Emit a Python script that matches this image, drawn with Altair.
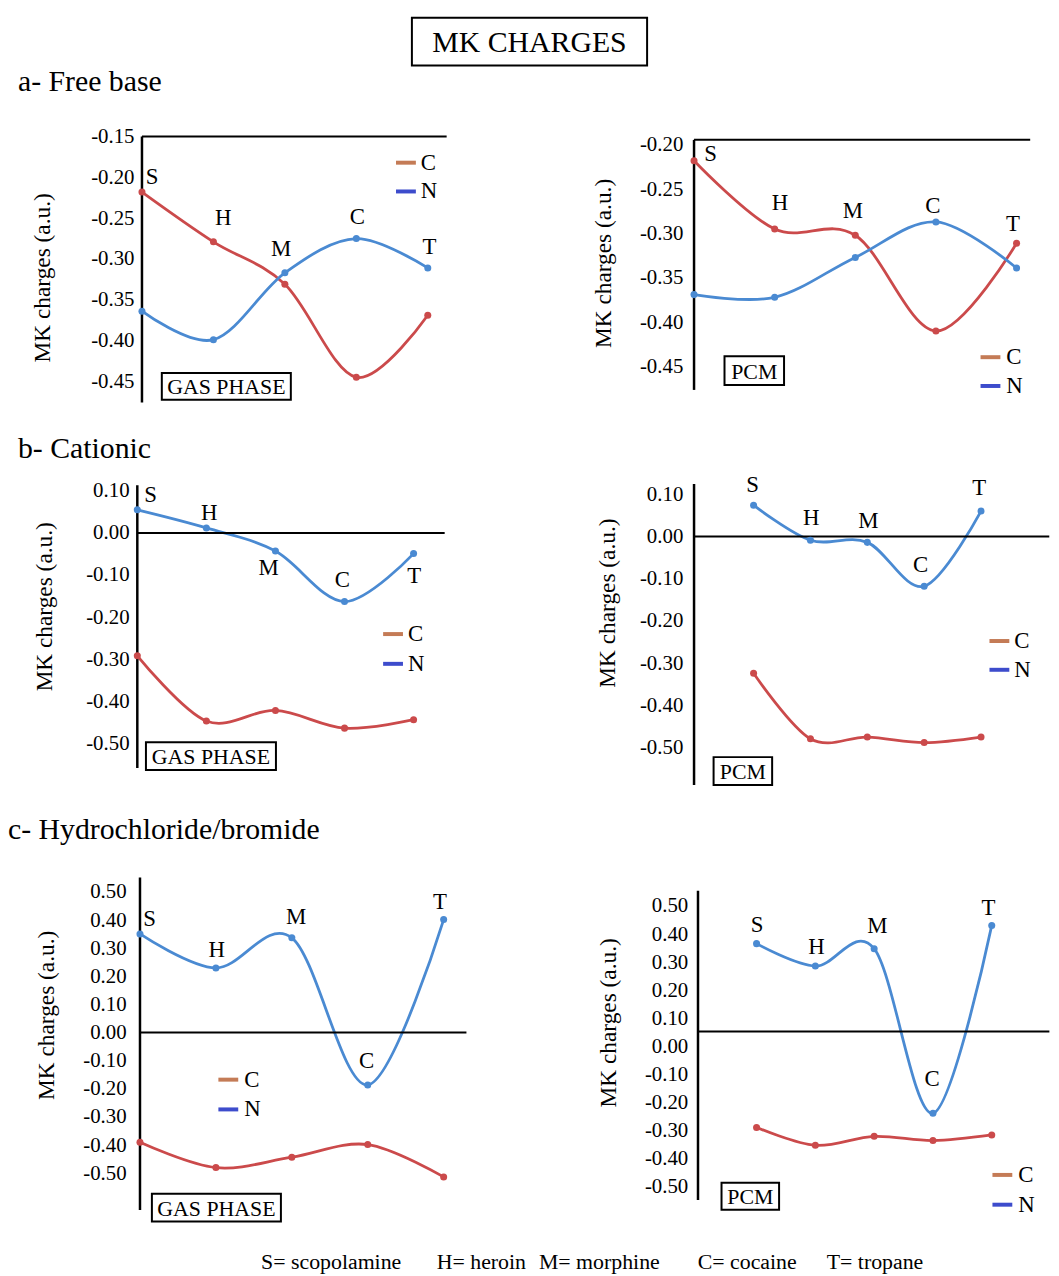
import altair as alt
import pandas as pd

FONT = "Liberation Serif"
RED = "#cb4a4b"
BLUE = "#4a8ad2"
LEG_C = "#c47b56"
LEG_N = "#3d4ccc"

molecules = ["S", "H", "M", "C", "T"]
series_names = ["C", "N"]

# a- Free base
a_gas_C = [-0.218, -0.279, -0.331, -0.445, -0.369]
a_gas_N = [-0.364, -0.399, -0.317, -0.275, -0.311]
a_pcm_C = [-0.218, -0.295, -0.302, -0.410, -0.311]
a_pcm_N = [-0.369, -0.372, -0.327, -0.287, -0.339]
# b- Cationic
b_gas_C = [-0.292, -0.447, -0.422, -0.464, -0.444]
b_gas_N = [0.055, 0.012, -0.043, -0.163, -0.049]
b_pcm_C = [-0.324, -0.479, -0.475, -0.488, -0.475]
b_pcm_N = [0.074, -0.009, -0.014, -0.118, 0.060]
# c- Hydrochloride/bromide
c_gas_C = [-0.390, -0.480, -0.443, -0.398, -0.513]
c_gas_N = [0.351, 0.230, 0.337, -0.186, 0.402]
c_pcm_C = [-0.289, -0.353, -0.321, -0.336, -0.316]
c_pcm_N = [0.366, 0.286, 0.348, -0.239, 0.431]

# tick labels
ticks_a_gas = [-0.15, -0.20, -0.25, -0.30, -0.35, -0.40, -0.45]
ticks_a_pcm = [-0.20, -0.25, -0.30, -0.35, -0.40, -0.45]
ticks_b = [0.10, 0.00, -0.10, -0.20, -0.30, -0.40, -0.50]
ticks_c = [0.50, 0.40, 0.30, 0.20, 0.10, 0.00, -0.10, -0.20, -0.30, -0.40, -0.50]

# point-label anchors (x in molecule index units, y in charge units)
lab_a_gas_x = [0.143, 1.139, 1.949, 3.014, 4.024]
lab_a_gas_y = [-0.199, -0.250, -0.288, -0.249, -0.285]
lab_a_pcm_x = [0.206, 1.067, 1.970, 2.963, 3.956]
lab_a_pcm_y = [-0.210, -0.266, -0.275, -0.269, -0.289]
lab_b_gas_x = [0.193, 1.040, 1.902, 2.970, 4.009]
lab_b_gas_y = [0.089, 0.048, -0.084, -0.111, -0.102]
lab_b_pcm_x = [-0.017, 1.012, 2.019, 2.939, 3.969]
lab_b_pcm_y = [0.121, 0.044, 0.036, -0.067, 0.114]
lab_c_gas_x = [0.127, 1.010, 2.056, 2.984, 3.952]
lab_c_gas_y = [0.402, 0.293, 0.410, -0.101, 0.465]
lab_c_pcm_x = [0.007, 1.019, 2.054, 2.987, 3.944]
lab_c_pcm_y = [0.431, 0.354, 0.427, -0.115, 0.492]

footer_items = ["S= scopolamine", "H= heroin", "M= morphine", "C= cocaine", "T= tropane"]
footer_x = [122, 299, 402, 562, 692]

W, H = 358, 374
LEFT_L, LEFT_R = 141, 699
TOPS = [100, 474, 848]


def xdom(spx, sp, left):
    return [(left - spx) / sp, (left + W - spx) / sp]


def ydom(vref, yref, b, top):
    return [vref - (top + H - yref) / b, vref + (yref - top) / b]


panels = [
    dict(C=a_gas_C, N=a_gas_N, lx=lab_a_gas_x, ly=lab_a_gas_y, ticks=ticks_a_gas,
         xcal=(143, 72.0), ycal=(-0.15, 131.7, 822.0), left=LEFT_L, top=TOPS[0], lp=6,
         title=(-97.7, 173.5), axis=(0, -0.15, -0.476), hline=(-0.15, 0, 4.264),
         legend=(58, 87, 258, 278, 283), box=("GAS PHASE", 22, 270, 152, 297)),
    dict(C=a_pcm_C, N=a_pcm_N, lx=lab_a_pcm_x, ly=lab_a_pcm_y, ticks=ticks_a_pcm,
         xcal=(699.3, 81.25), ycal=(-0.20, 140.0, 893.2), left=LEFT_R, top=TOPS[0], lp=11,
         title=(-90.7, 159), axis=(0, -0.1944, -0.4765), hline=(-0.1944, 0, 4.169),
         legend=(254, 283, 289, 309, 315), box=("PCM", 31, 253, 91, 282)),
    dict(C=b_gas_C, N=b_gas_N, lx=lab_b_gas_x, ly=lab_b_gas_y, ticks=ticks_b,
         xcal=(138.3, 69.6), ycal=(-0.2, 615.9, 423.8), left=LEFT_L, top=TOPS[1], lp=11,
         title=(-96, 131), axis=(0, 0.1136, -0.5589), hline=(0.0, 0, 4.45),
         legend=(159, 189, 245, 265, 270), box=("GAS PHASE", 6, 268, 137, 296)),
    dict(C=b_pcm_C, N=b_pcm_N, lx=lab_b_pcm_x, ly=lab_b_pcm_y, ticks=ticks_b,
         xcal=(759.3, 57.3), ycal=(-0.2, 619.76, 425.6), left=LEFT_R, top=TOPS[1], lp=11,
         title=(-87.3, 127.3), axis=(-1.047, 0.1244, -0.5882), hline=(0.0, -1.047, 5.2),
         legend=(166, 195, 298, 318, 323), box=("PCM", 20, 283, 79, 311)),
    dict(C=c_gas_C, N=c_gas_N, lx=lab_c_gas_x, ly=lab_c_gas_y, ticks=ticks_c,
         xcal=(141.0, 76.5), ycal=(0.0, 1034.6, 283.4), left=LEFT_L, top=TOPS[2], lp=14,
         title=(-94.3, 168.7), axis=(0, 0.5515, -0.6306), hline=(0.0, 0, 4.30),
         legend=(234, 264, 79, 99, 105), box=("GAS PHASE", 12, 349, 142, 377)),
    dict(C=c_pcm_C, N=c_pcm_N, lx=lab_c_pcm_x, ly=lab_c_pcm_y, ticks=ticks_c,
         xcal=(762.3, 59.25), ycal=(0.0, 1048.4, 282.7), left=LEFT_R, top=TOPS[2], lp=6,
         title=(-85.7, 176.2), axis=(-0.996, 0.5543, -0.5479), hline=(0.053, -0.996, 4.98),
         legend=(330, 360, 301, 321, 327), box=("PCM", 28, 338, 86, 365)),
]

one = pd.DataFrame({"k": [0]})
LABEL_EXPR = "(datum.value < -0.0001 ? '-' : '') + format(abs(datum.value), '.2f')"


def text_layer(txt, x, y, size, align="left"):
    return alt.Chart(one).mark_text(
        text=txt, font=FONT, fontSize=size, color="black", align=align, baseline="middle"
    ).encode(x=alt.value(x), y=alt.value(y))


def build(p, extras):
    xs = alt.Scale(domain=xdom(p["xcal"][0], p["xcal"][1], p["left"]), nice=False, zero=False)
    vref, yref, b = p["ycal"]
    ys = alt.Scale(domain=ydom(vref, yref, b, p["top"]), nice=False, zero=False)

    df = pd.DataFrame({
        "idx": list(range(5)) * 2,
        "series": [series_names[0]] * 5 + [series_names[1]] * 5,
        "value": p["C"] + p["N"],
        "mol": molecules * 2,
    })
    labdf = pd.DataFrame({"lx": p["lx"], "ly": p["ly"], "mol": molecules})
    color = alt.Color("series:N", scale=alt.Scale(domain=series_names, range=[RED, BLUE]), legend=None)
    x = alt.X("idx:Q", scale=xs, axis=None)

    yaxis = alt.Axis(
        values=p["ticks"], domain=False, ticks=False, grid=False, labelExpr=LABEL_EXPR,
        labelPadding=p["lp"], labelOverlap=False, title="MK charges (a.u.)",
        titleX=p["title"][0], titleY=p["title"][1],
        titleBaseline="middle", titleAlign="center",
    )

    ax_i, ax_top, ax_bot = p["axis"]
    vline = alt.Chart(one).mark_rule(color="black", strokeWidth=2.5).encode(
        x=alt.XDatum(ax_i, scale=xs, axis=None),
        y=alt.YDatum(ax_top, scale=ys, axis=yaxis), y2=alt.datum(ax_bot))
    hv, h0, h1 = p["hline"]
    hline = alt.Chart(one).mark_rule(color="black", strokeWidth=2).encode(
        x=alt.XDatum(h0, scale=xs, axis=None), x2=alt.datum(h1),
        y=alt.YDatum(hv, scale=ys, axis=yaxis))

    lines = alt.Chart(df).mark_line(interpolate="cardinal", strokeWidth=2.8).encode(
        x=x, y=alt.Y("value:Q", scale=ys, axis=yaxis), color=color)
    pts = alt.Chart(df).mark_circle(size=50, opacity=1).encode(
        x=x, y=alt.Y("value:Q", scale=ys, axis=yaxis), color=color)
    labs = alt.Chart(labdf).mark_text(font=FONT, fontSize=23, color="black").encode(
        x=alt.X("lx:Q", scale=xs, axis=None), y=alt.Y("ly:Q", scale=ys, axis=yaxis), text="mol:N")

    yc, yn, d0, d1, tx = p["legend"]
    leg = [
        alt.Chart(one).mark_rule(color=LEG_C, strokeWidth=4).encode(
            x=alt.value(d0), x2=alt.value(d1), y=alt.value(yc)),
        alt.Chart(one).mark_rule(color=LEG_N, strokeWidth=4).encode(
            x=alt.value(d0), x2=alt.value(d1), y=alt.value(yn)),
        text_layer(series_names[0], tx, yc, 23),
        text_layer(series_names[1], tx, yn, 23),
    ]
    bt, bx1, by1, bx2, by2 = p["box"]
    box = [
        alt.Chart(one).mark_rect(fillOpacity=0, stroke="black", strokeWidth=2).encode(
            x=alt.value(bx1), x2=alt.value(bx2), y=alt.value(by1), y2=alt.value(by2)),
        text_layer(bt, (bx1 + bx2) / 2, (by1 + by2) / 2 + 1, 22, align="center"),
    ]
    return alt.layer(lines, vline, hline, pts, labs, *leg, *box, *extras).properties(width=W, height=H)


title_box = [
    alt.Chart(one).mark_rect(fillOpacity=0, stroke="black", strokeWidth=2).encode(
        x=alt.value(274), x2=alt.value(511), y=alt.value(-88), y2=alt.value(-40)),
    text_layer("MK CHARGES", 392.5, -63, 30, align="center"),
]
extras = [
    title_box + [text_layer("a- Free base", -123, -23, 30)],
    [],
    [text_layer("b- Cationic", -123, -27, 30)],
    [],
    [text_layer("c- Hydrochloride/bromide", -133, -17, 30)]
    + [text_layer(t, fx, 418, 22) for t, fx in zip(footer_items, footer_x)],
    [],
]

cells = [build(p, e) for p, e in zip(panels, extras)]

chart = alt.concat(
    *cells, columns=2, spacing={"row": 0, "column": LEFT_R - LEFT_L - W}, bounds="flush"
).properties(
    padding={"left": 0, "top": 4, "right": 0, "bottom": 0}
).configure_view(
    stroke=None
).configure_axis(
    labelFont=FONT, labelFontSize=21, labelColor="black",
    titleFont=FONT, titleFontSize=23.5, titleFontWeight="normal", titleColor="black",
)

chart.save("out.html", embed_options={"renderer": "svg", "actions": False})
